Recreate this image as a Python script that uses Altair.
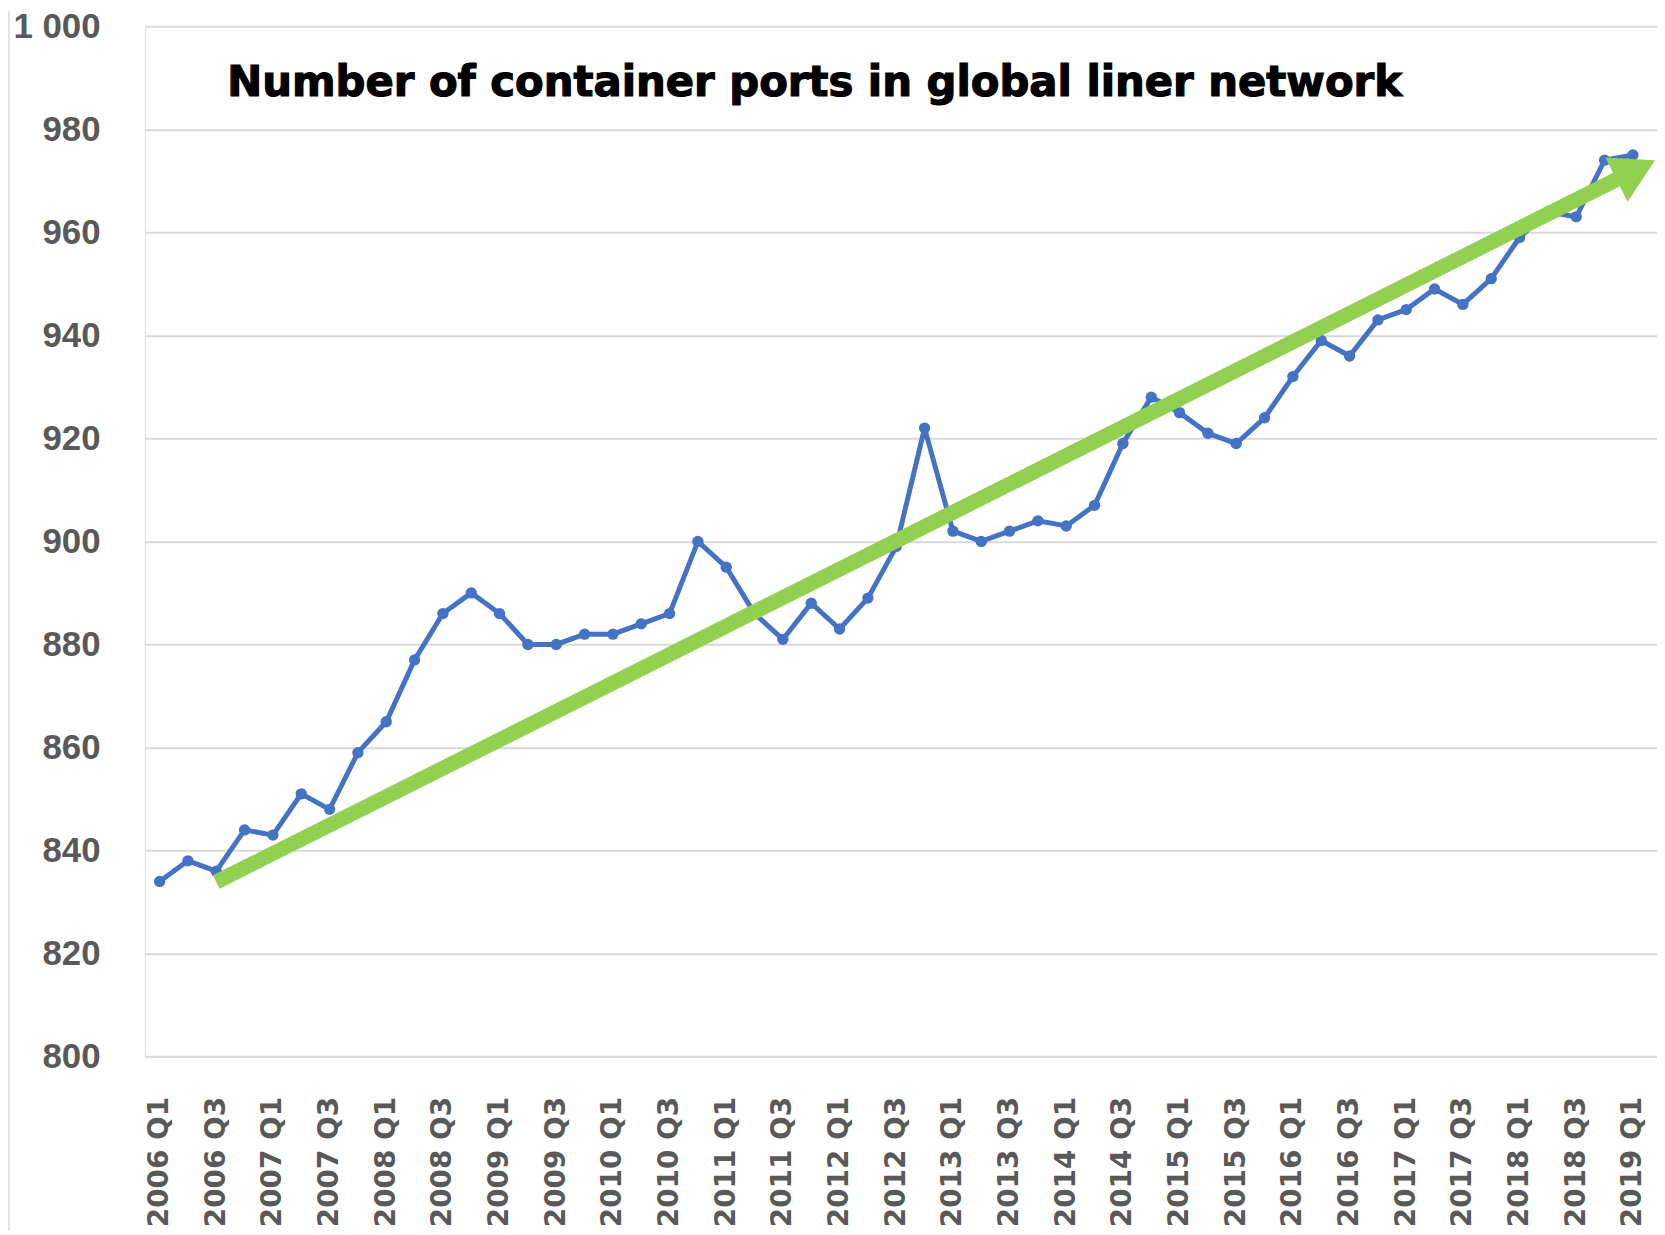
import altair as alt
import pandas as pd

# ---- data ----
years = list(range(2006, 2020))
quarters = [f"{y} Q{q}" for y in years for q in (1, 2, 3, 4)][:53]  # 2006 Q1 .. 2019 Q1

ports = [834, 838, 836, 844, 843, 851, 848, 859, 865, 877,
         886, 890, 886, 880, 880, 882, 882, 884, 886, 900,
         895, 886, 881, 888, 883, 889, 899, 922, 902, 900,
         902, 904, 903, 907, 919, 928, 925, 921, 919, 924,
         932, 939, 936, 943, 945, 949, 946, 951, 959, 964,
         963, 974, 975]

# green trend arrow (shaft start/end and head centre, in data units)
trend_idx = [2, 51.55]
trend_val = [833.9, 970.6]
head_idx = [52.10]
head_val = [972.1]

y_ticks = [800, 820, 840, 860, 880, 900, 920, 940, 960, 980, 1000]
x_ticks = list(range(0, 53, 2))

title_text = "Number of container ports in global liner network"

df = pd.DataFrame({"idx": list(range(len(ports))), "ports": ports})
trend_df = pd.DataFrame({"idx": trend_idx, "ports": trend_val})
head_df = pd.DataFrame({"idx": head_idx, "ports": head_val})
title_df = pd.DataFrame({"t": [title_text]})

label_array = "[" + ",".join("'" + q + "'" for q in quarters) + "]"

xs = alt.Scale(domain=[-0.52, 52.85], nice=False, zero=False)
ys = alt.Scale(domain=[800, 1000], nice=False, zero=False)

x_axis = alt.Axis(values=x_ticks, labelExpr=label_array + "[datum.value]",
                  grid=False, domain=False, ticks=False, labelAngle=270,
                  labelPadding=40, labelFont="DejaVu Sans", labelFontWeight="bold",
                  labelFontSize=28, labelColor="#595959", labelOverlap=False,
                  title=None)
y_axis = alt.Axis(values=y_ticks,
                  labelExpr="datum.value == 1000 ? '1 000' : format(datum.value, 'd')",
                  grid=True, gridColor="#d9d9d9", gridWidth=2, domain=False, ticks=False,
                  labelPadding=45, labelFont="Liberation Sans", labelFontWeight="bold",
                  labelFontSize=35, labelColor="#595959", labelOverlap=False, title=None)

X = alt.X("idx:Q", scale=xs, axis=x_axis)
Y = alt.Y("ports:Q", scale=ys, axis=y_axis)

line = alt.Chart(df).mark_line(color="#4472C4", strokeWidth=5).encode(x=X, y=Y)
pts = alt.Chart(df).mark_circle(color="#4472C4", size=130, opacity=1).encode(x=X, y=Y)

shaft = alt.Chart(trend_df).mark_line(color="#92D050", strokeWidth=15,
                                      strokeCap="butt").encode(x=X, y=Y)
head = alt.Chart(head_df).mark_point(shape="triangle-right", filled=True, size=2500,
                                     angle=333.4, color="#92D050", opacity=1,
                                     strokeWidth=0).encode(x=X, y=Y)

title = alt.Chart(title_df).mark_text(align="left", baseline="alphabetic",
                                      font="DejaVu Sans", fontWeight="bold",
                                      fontSize=42, color="#000000",
                                      stroke="#000000", strokeWidth=1.2).encode(
    x=alt.value(82.8), y=alt.value(70), text="t:N")

border = alt.Chart(title_df).mark_rule(color="#d9d9d9", strokeWidth=1.5).encode(
    x=alt.value(-136.5), y=alt.value(-15), y2=alt.value(1210))

chart = alt.layer(border, line, pts, shaft, head, title).properties(
    width=1519.4, height=1035.3,
    autosize=alt.AutoSizeParams(type="none"),
    padding={"left": 137.5, "top": 15.4, "right": 0, "bottom": 175},
).configure_view(strokeWidth=0).configure(background="white")

chart.save("out.html", embed_options={"renderer": "svg", "actions": False})
